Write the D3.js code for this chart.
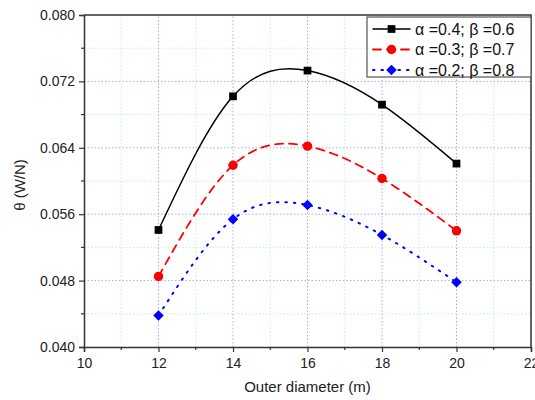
<!DOCTYPE html>
<html><head><meta charset="utf-8">
<script src="https://cdn.jsdelivr.net/npm/d3@7"></script>
<style>body{margin:0;background:#fff}svg{display:block;font-family:"Liberation Sans",Arial,sans-serif}</style>
</head><body>
<script>
const diameters = [12, 14, 16, 18, 20];
const seriesA = [0.0541, 0.0702, 0.0733, 0.0692, 0.0621];
const seriesB = [0.0485, 0.0619, 0.0642, 0.0603, 0.0540];
const seriesC = [0.0438, 0.0554, 0.0571, 0.0535, 0.0478];
const seriesNames = ["α =0.4; β =0.6", "α =0.3; β =0.7", "α =0.2; β =0.8"];
const xTicks = [10, 12, 14, 16, 18, 20, 22];
const yTicks = [0.040, 0.048, 0.056, 0.064, 0.072, 0.080];
const xMinor = [11, 13, 15, 17, 19, 21];
const yMinor = [0.044, 0.052, 0.060, 0.068, 0.076];

const W = 535, H = 400;
const m = {l: 84, r: 4, t: 15, b: 53};
const svg = d3.select("body").append("svg").attr("width", W).attr("height", H);
const x = d3.scaleLinear().domain([10, 22]).range([m.l, W - m.r]);
const y = d3.scaleLinear().domain([0.040, 0.080]).range([H - m.b, m.t]);

// grid
const g = svg.append("g");
const minorC = "#c4f2c4", majorC = "#a8a8ff";
g.selectAll(".gxm").data(xMinor).join("line").attr("x1", d => x(d)).attr("x2", d => x(d)).attr("y1", y(0.04)).attr("y2", y(0.08))
  .attr("stroke", minorC).attr("stroke-width", 1).attr("stroke-dasharray", "1.5,2");
g.selectAll(".gym").data(yMinor).join("line").attr("y1", d => y(d)).attr("y2", d => y(d)).attr("x1", x(10)).attr("x2", x(22))
  .attr("stroke", minorC).attr("stroke-width", 1).attr("stroke-dasharray", "1.5,2");
g.selectAll(".gx").data(xTicks.slice(1, -1)).join("line").attr("x1", d => x(d)).attr("x2", d => x(d)).attr("y1", y(0.04)).attr("y2", y(0.08))
  .attr("stroke", majorC).attr("stroke-width", 1).attr("stroke-dasharray", "1.5,2");
g.selectAll(".gy").data(yTicks.slice(1, -1)).join("line").attr("y1", d => y(d)).attr("y2", d => y(d)).attr("x1", x(10)).attr("x2", x(22))
  .attr("stroke", majorC).attr("stroke-width", 1).attr("stroke-dasharray", "1.5,2");

// axes
const fmt = d3.format(".3f");
const xAxis = svg.append("g").attr("transform", `translate(0,${y(0.04)})`)
  .call(d3.axisBottom(x).tickValues(xTicks).tickSize(5).tickPadding(6));
const yAxis = svg.append("g").attr("transform", `translate(${x(10)},0)`)
  .call(d3.axisLeft(y).tickValues(yTicks).tickFormat(fmt).tickSize(5).tickPadding(4));
[xAxis, yAxis].forEach(a => {
  a.select(".domain").attr("stroke", "#333").attr("stroke-width", 1.5);
  a.selectAll(".tick line").attr("stroke", "#333").attr("stroke-width", 1.2);
  a.selectAll("text").attr("font-size", 14).attr("fill", "#222").attr("font-family", "Liberation Sans, Arial, sans-serif");
});
svg.append("g").attr("transform", `translate(0,${y(0.04)})`).selectAll("line").data(xMinor).join("line")
  .attr("x1", d => x(d)).attr("x2", d => x(d)).attr("y1", 0).attr("y2", 3).attr("stroke", "#333").attr("stroke-width", 1.2);
svg.append("g").selectAll("line").data(yMinor).join("line")
  .attr("y1", d => y(d)).attr("y2", d => y(d)).attr("x1", x(10) - 3).attr("x2", x(10)).attr("stroke", "#333").attr("stroke-width", 1.2);
// top & right border
svg.append("path").attr("d", `M${x(10)},${y(0.08)}H${x(22)}V${y(0.04)}`).attr("fill", "none").attr("stroke", "#333").attr("stroke-width", 1.5);

// labels
svg.append("text").attr("x", (x(10) + x(22)) / 2).attr("y", 392).attr("text-anchor", "middle").attr("font-size", 15).attr("fill", "#222").text("Outer diameter (m)");
svg.append("text").attr("transform", `translate(25,${(y(0.04) + y(0.08)) / 2 + 4}) rotate(-90)`).attr("text-anchor", "middle").attr("font-size", 15).attr("fill", "#222").text("θ (W/N)");

// series
const series = [
  {vals: seriesA, color: "#000", dash: null, sym: d3.symbolSquare, size: 60, width: 1.5, rot: 0},
  {vals: seriesB, color: "#ff0000", dash: "8,6", sym: d3.symbolCircle, size: 70, width: 1.8, rot: 0},
  {vals: seriesC, color: "#0000ff", dash: "1.5,7", sym: d3.symbolSquare, size: 55, width: 2, rot: 45}
];
const line = d3.line().x((d, i) => x(diameters[i])).y(d => y(d)).curve(d3.curveNatural);
series.forEach(s => {
  svg.append("path").attr("d", line(s.vals)).attr("fill", "none").attr("stroke", s.color)
    .attr("stroke-width", s.width).attr("stroke-dasharray", s.dash).attr("stroke-linecap", "round");
  svg.append("g").selectAll("path").data(s.vals).join("path")
    .attr("transform", (d, i) => `translate(${x(diameters[i])},${y(d)}) rotate(${s.rot})`)
    .attr("d", d3.symbol().type(s.sym).size(s.size)).attr("fill", s.color);
});

// legend
const lg = svg.append("g");
lg.append("rect").attr("x", 367).attr("y", 17).attr("width", 164).attr("height", 60).attr("fill", "#fff").attr("stroke", "#555").attr("stroke-width", 1.2);
series.forEach((s, i) => {
  const ly = 29 + i * 20.5;
  lg.append("line").attr("x1", 373).attr("x2", 410).attr("y1", ly).attr("y2", ly).attr("stroke", s.color)
    .attr("stroke-width", s.width).attr("stroke-dasharray", s.dash).attr("stroke-linecap", "round");
  lg.append("path").attr("transform", `translate(391.5,${ly}) rotate(${s.rot})`).attr("d", d3.symbol().type(s.sym).size(s.size)).attr("fill", s.color);
  lg.append("text").attr("x", 415).attr("y", ly + 5.5).attr("font-size", 16).attr("fill", "#111").text(seriesNames[i]);
});
</script>
</body></html>
